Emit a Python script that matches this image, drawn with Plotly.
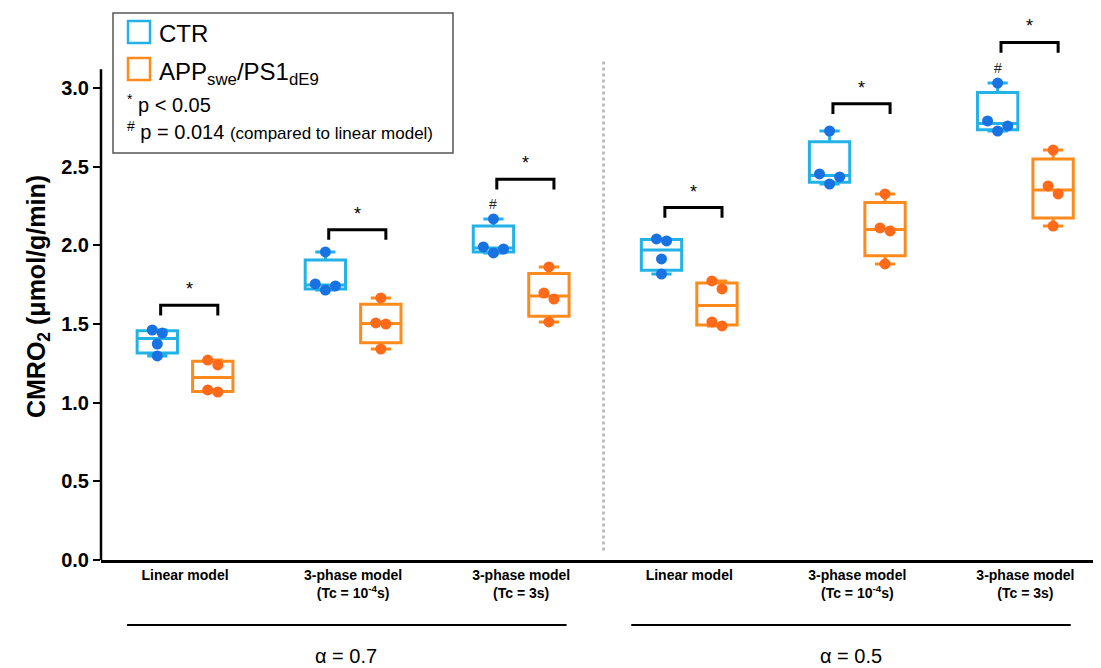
import numpy as np
import plotly.graph_objects as go

# ---------------- data ----------------
groups = ["Linear model", "3-phase model (Tc = 10^-4 s)", "3-phase model (Tc = 3s)",
          "Linear model", "3-phase model (Tc = 10^-4 s)", "3-phase model (Tc = 3s)"]
tick_labels = ["Linear model",
               "3-phase model<br>(Tc = 10<sup>-4</sup>s)",
               "3-phase model<br>(Tc = 3s)",
               "Linear model",
               "3-phase model<br>(Tc = 10<sup>-4</sup>s)",
               "3-phase model<br>(Tc = 3s)"]
alpha_labels = ["α = 0.7", "α = 0.5"]

ctr_values = [
    [1.297, 1.373, 1.443, 1.462],
    [1.716, 1.742, 1.755, 1.958],
    [1.952, 1.977, 1.990, 2.168],
    [1.818, 1.914, 2.028, 2.041],
    [2.390, 2.435, 2.454, 2.727],
    [2.727, 2.759, 2.791, 3.032],
]
app_values = [
    [1.068, 1.081, 1.240, 1.271],
    [1.341, 1.500, 1.507, 1.666],
    [1.513, 1.659, 1.697, 1.863],
    [1.488, 1.513, 1.723, 1.774],
    [1.882, 2.092, 2.111, 2.327],
    [2.123, 2.327, 2.378, 2.606],
]
# significance bracket levels (annotation heights) and '#' flags
bracket_levels = [1.62, 2.10, 2.42, 2.24, 2.90, 3.29]
hash_flags = [False, False, True, False, False, True]

# ---------------- style ----------------
CTR_BOX = "#22B2E6"
CTR_PT = "#1872E2"
APP_BOX = "#FF8A1C"
APP_PT = "#FF6A1A"
FONT = "Liberation Sans"

PAGE = 8  # browser body margin
W, H = 1101 - PAGE, 668 - PAGE
L, R, T, B = 101 - PAGE, 0, 33 - PAGE, 108
PW, PH = W - L - R, H - T - B
XR = [-0.5, 5.45]
YR = [0, 3.35]
OFF = 0.165
BOXW = 0.24


def px_x(px):  # page pixel -> paper
    return (px - 101) / PW


def px_y(py):
    return (560 - py) / PH


def prism_quartiles(vals):
    a = np.sort(np.asarray(vals, float))
    n = len(a)

    def q(p):
        pos = (n + 1) * p - 1
        lo = int(np.floor(pos))
        lo = max(0, min(lo, n - 1))
        hi = min(lo + 1, n - 1)
        frac = pos - lo
        return a[lo] + frac * (a[hi] - a[lo])
    return a[0], q(0.25), float(np.median(a)), q(0.75), a[-1]


def swarm_offsets(vals, thr=0.06, d=0.06):
    order = np.argsort(vals)
    sv = np.asarray(vals)[order]
    clusters, cur = [], [0]
    for k in range(1, len(sv)):
        if sv[k] - sv[k - 1] < thr:
            cur.append(k)
        else:
            clusters.append(cur)
            cur = [k]
    clusters.append(cur)
    offs = np.zeros(len(sv))
    for c in clusters:
        if len(c) == 2:
            pat = [d / 2, -d / 2]
        elif len(c) == 3:
            pat = [0, d, -d]
        elif len(c) == 1:
            pat = [0]
        else:
            pat = list((np.arange(len(c)) - (len(c) - 1) / 2) * d)
        for k, p in zip(c, pat):
            offs[k] = p
    out = np.zeros(len(sv))
    out[order] = offs
    return out


fig = go.Figure()

for values, off, bc, pc, name in [(ctr_values, -OFF, CTR_BOX, CTR_PT, "CTR"),
                                   (app_values, OFF, APP_BOX, APP_PT, "APP")]:
    xs = [i + off for i in range(len(values))]
    stats = [prism_quartiles(v) for v in values]
    fig.add_trace(go.Box(
        x=xs,
        lowerfence=[s[0] for s in stats], q1=[s[1] for s in stats],
        median=[s[2] for s in stats], q3=[s[3] for s in stats],
        upperfence=[s[4] for s in stats],
        width=BOXW, whiskerwidth=0.5, boxpoints=False,
        line=dict(color=bc, width=3), fillcolor="rgba(0,0,0,0)",
        name=name, showlegend=False, hoverinfo="skip"))
    px_, py_ = [], []
    for i, v in enumerate(values):
        o = swarm_offsets(v)
        px_ += list(i + off + o)
        py_ += list(v)
    fig.add_trace(go.Scatter(x=px_, y=py_, mode="markers",
                             marker=dict(color=pc, size=11),
                             showlegend=False, name=name, cliponaxis=False))

shapes = []
annotations = []
# significance brackets
drop = 0.065
for i, lvl in enumerate(bracket_levels):
    x0, x1 = i - OFF + 0.02, i + OFF + 0.03
    shapes.append(dict(type="path", xref="x", yref="y",
                       path=f"M {x0},{lvl - drop} L {x0},{lvl} L {x1},{lvl} L {x1},{lvl - drop}",
                       line=dict(color="black", width=3)))
    annotations.append(dict(x=(x0 + x1) / 2, y=lvl, xref="x", yref="y", text="*",
                            showarrow=False, yshift=16, font=dict(family=FONT, size=18, color="black")))
    if hash_flags[i]:
        annotations.append(dict(x=i - OFF, y=max(ctr_values[i]), xref="x", yref="y", text="#",
                                showarrow=False, yshift=15, font=dict(family=FONT, size=14, color="#222")))

# divider
shapes.append(dict(type="line", xref="x", yref="y", x0=2.49, x1=2.49, y0=0.06, y1=3.17,
                   line=dict(color="#BDBDBD", width=3, dash="dot")))
# y axis line (stops short of top)
shapes.append(dict(type="line", xref="paper", yref="y", x0=0, x1=0, y0=0, y1=3.12,
                   line=dict(color="black", width=2.5)))

# group underlines and alpha labels
for k, lab in enumerate(alpha_labels):
    g0, g1 = 3 * k, 3 * k + 2
    shapes.append(dict(type="line", xref="x", yref="paper", x0=g0 - 0.345, x1=g1 + 0.27,
                       y0=px_y(625), y1=px_y(625), line=dict(color="black", width=2.2)))
    annotations.append(dict(x=(g0 + g1) / 2 - 0.04, y=px_y(669), xref="x", yref="paper", text=lab,
                            yanchor="bottom", showarrow=False,
                            font=dict(family=FONT, size=20, color="black")))

# custom legend
shapes.append(dict(type="rect", xref="paper", yref="paper", x0=px_x(113), x1=px_x(453),
                   y0=px_y(153), y1=px_y(13), line=dict(color="#555", width=1.5),
                   fillcolor="white", layer="below"))
for (py0, py1, col) in [(21, 43, CTR_BOX), (58, 80, APP_BOX)]:
    shapes.append(dict(type="rect", xref="paper", yref="paper", x0=px_x(128), x1=px_x(150),
                       y0=px_y(py1), y1=px_y(py0), line=dict(color=col, width=2.5)))
legend_texts = [
    (157, 33, "CTR", 24),
    (157, 73, "APP<sub>swe</sub>/PS1<sub>dE9</sub>", 24),
    (125, 103, "<sup>*</sup> p &lt; 0.05", 20),
    (125, 130, "<sup>#</sup> p = 0.014 <span style='font-size:17px'>(compared to linear model)</span>", 20),
]
for x_, y_, t_, s_ in legend_texts:
    annotations.append(dict(x=px_x(x_), y=px_y(y_), xref="paper", yref="paper", text=t_,
                            xanchor="left", yanchor="middle", showarrow=False,
                            font=dict(family=FONT, size=s_, color="black")))

fig.update_layout(
    width=W, height=H, margin=dict(l=L, r=R, t=T, b=B, autoexpand=False),
    paper_bgcolor="white", plot_bgcolor="white",
    boxmode="overlay", showlegend=False,
    shapes=shapes, annotations=annotations,
    xaxis=dict(range=XR, tickmode="array", tickvals=list(range(6)), ticktext=tick_labels,
               showline=True, linecolor="black", linewidth=2.5, ticks="", showgrid=False,
               zeroline=False, automargin=False,
               tickfont=dict(family=FONT, size=14, color="black", weight="bold")),
    yaxis=dict(range=YR, tickmode="array", tickvals=[0, 0.5, 1, 1.5, 2, 2.5, 3],
               tickformat=".1f", ticks="outside", ticklen=7, tickwidth=2, tickcolor="black",
               showline=False, showgrid=False, zeroline=False, automargin=False,
               tickfont=dict(family=FONT, size=20, color="black", weight="bold"),
               title=dict(text="CMRO<sub>2</sub> (μmol/g/min)", standoff=8,
                          font=dict(family=FONT, size=25, color="black", weight="bold"))),
)

fig.write_html("out.html", config={"displayModeBar": False})
